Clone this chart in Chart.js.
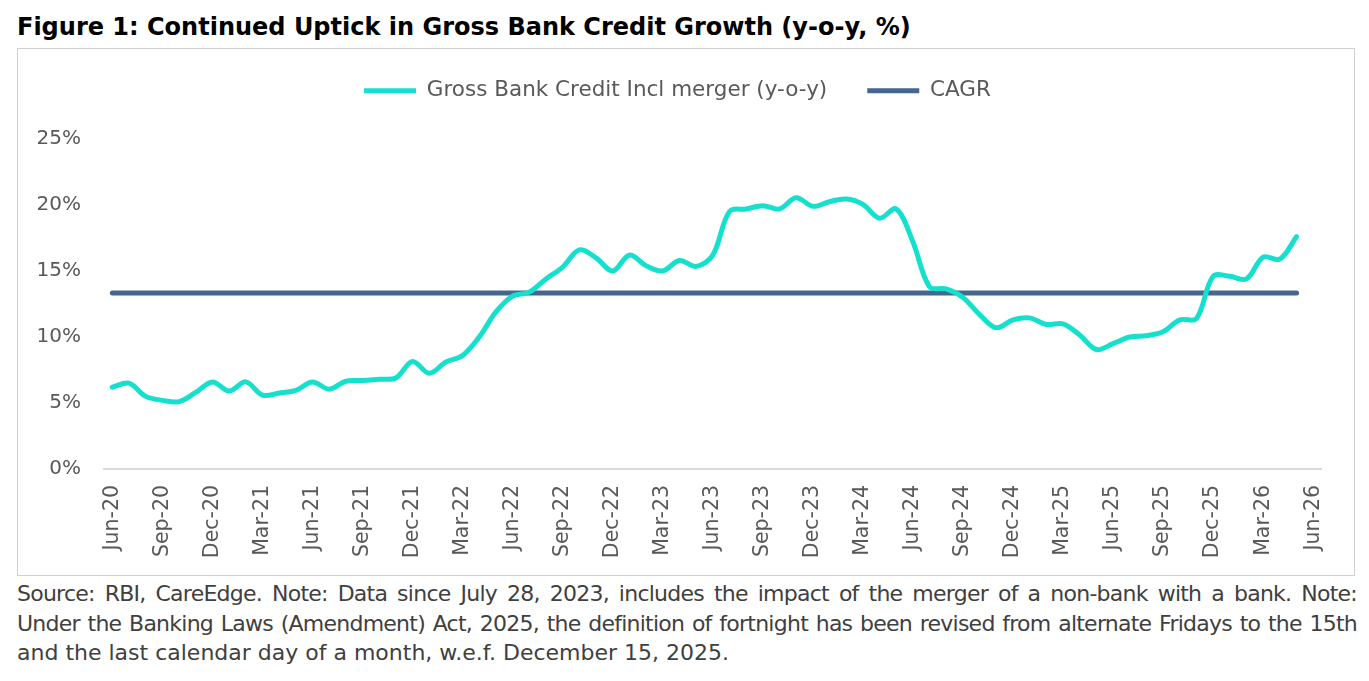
<!DOCTYPE html>
<html>
<head>
<meta charset="utf-8">
<script src="https://cdn.jsdelivr.net/npm/chart.js@4.4.0/dist/chart.umd.min.js"></script>
<style>
html,body{margin:0;padding:0;background:#fff;}
body{width:1369px;height:681px;position:relative;overflow:hidden;font-family:'DejaVu Sans',sans-serif;}
#title{position:absolute;left:17px;top:12px;font-weight:bold;font-size:24px;line-height:30px;color:#000;white-space:nowrap;}
#box{position:absolute;left:17px;top:48px;width:1338px;height:528px;box-sizing:border-box;border:1px solid #d0d0d0;}
#box canvas{position:absolute;left:0;top:0;}
#note{position:absolute;left:17px;top:579px;width:1340px;font-size:22px;line-height:29.5px;color:#404040;}
#note .j{text-align:justify;text-align-last:justify;white-space:nowrap;letter-spacing:-0.75px;}
#note .l{text-align:left;white-space:nowrap;}
</style>
</head>
<body>
<div id="title">Figure 1: Continued Uptick in Gross Bank Credit Growth (y-o-y, %)</div>
<div id="box"><canvas id="c" width="1336" height="526"></canvas></div>
<div id="note">
<div class="j">Source: RBI, CareEdge. Note: Data since July 28, 2023, includes the impact of the merger of a non-bank with a bank. Note:</div>
<div class="j">Under the Banking Laws (Amendment) Act, 2025, the definition of fortnight has been revised from alternate Fridays to the 15th</div>
<div class="l">and the last calendar day of a month, w.e.f. December 15, 2025.</div>
</div>
<script>
const months = [
 'Jun-20','Jul-20','Aug-20','Sep-20','Oct-20','Nov-20','Dec-20','Jan-21','Feb-21','Mar-21','Apr-21','May-21',
 'Jun-21','Jul-21','Aug-21','Sep-21','Oct-21','Nov-21','Dec-21','Jan-22','Feb-22','Mar-22','Apr-22','May-22',
 'Jun-22','Jul-22','Aug-22','Sep-22','Oct-22','Nov-22','Dec-22','Jan-23','Feb-23','Mar-23','Apr-23','May-23',
 'Jun-23','Jul-23','Aug-23','Sep-23','Oct-23','Nov-23','Dec-23','Jan-24','Feb-24','Mar-24','Apr-24','May-24',
 'Jun-24','Jul-24','Aug-24','Sep-24','Oct-24','Nov-24','Dec-24','Jan-25','Feb-25','Mar-25','Apr-25','May-25',
 'Jun-25','Jul-25','Aug-25','Sep-25','Oct-25','Nov-25','Dec-25','Jan-26','Feb-26','Mar-26','Apr-26','May-26',
 'Jun-26'
];
const grossBankCredit = [
 6.2, 6.5, 5.5, 5.2, 5.1, 5.8, 6.6, 5.9, 6.6, 5.6, 5.75, 5.95,
 6.6, 6.05, 6.65, 6.7, 6.8, 6.9, 8.15, 7.25, 8.1, 8.6, 10.0, 11.9,
 13.1, 13.4, 14.4, 15.3, 16.6, 16.0, 15.0, 16.2, 15.4, 15.0, 15.8, 15.35,
 16.2, 19.5, 19.7, 19.95, 19.7, 20.55, 19.9, 20.25, 20.45, 20.05, 19.0, 19.7,
 17.2, 13.8, 13.65, 13.0, 11.7, 10.7, 11.3, 11.45, 10.95, 11.0, 10.15, 9.05,
 9.5, 10.0, 10.1, 10.4, 11.3, 11.4, 14.6, 14.6, 14.4, 16.05, 15.9, 17.6
];
const cagrValue = 13.33;
const cagrStart = 'Jun-20';
const cagrEnd = 'May-26';
const yTicks = [0, 5, 10, 15, 20, 25];

const FONT = "'DejaVu Sans',sans-serif";
const TXT = '#595959';

const legendFix = {
  id: 'legendFix',
  beforeInit(chart) {
    const lg = chart.legend;
    if (lg) {
      const orig = lg.fit;
      lg.fit = function () { orig.call(this); this.height = 99; };
    }
  }
};

new Chart(document.getElementById('c'), {
  type: 'line',
  data: {
    labels: months,
    datasets: [
      {
        label: 'Gross Bank Credit Incl merger (y-o-y)',
        data: grossBankCredit,
        borderColor: '#14E0CD',
        backgroundColor: '#14E0CD',
        borderWidth: 5,
        borderCapStyle: 'round',
        borderJoinStyle: 'round',
        pointRadius: 0,
        tension: 0.35,
        fill: false
      },
      {
        label: 'CAGR',
        data: [{x: cagrStart, y: cagrValue}, {x: cagrEnd, y: cagrValue}],
        borderColor: '#44668F',
        backgroundColor: '#44668F',
        borderWidth: 5,
        borderCapStyle: 'round',
        pointRadius: 0,
        tension: 0,
        fill: false
      }
    ]
  },
  options: {
    responsive: false,
    animation: false,
    layout: { padding: { left: 10, right: 27, top: -9, bottom: 0 } },
    plugins: {
      legend: {
        position: 'top',
        align: 'center',
        labels: {
          usePointStyle: true,
          pointStyle: 'line',
          pointStyleWidth: 52,
          padding: 40,
          color: TXT,
          font: { family: FONT, size: 21.5 }
        }
      },
      tooltip: { enabled: false }
    },
    scales: {
      x: {
        type: 'category',
        offset: true,
        grid: { display: false, drawTicks: false },
        border: { display: true, color: '#d9d9d9', width: 2 },
        ticks: {
          autoSkip: false,
          minRotation: 90,
          maxRotation: 90,
          padding: 16,
          color: TXT,
          font: { family: FONT, size: 20.5 },
          callback: function (v, i) { return i % 3 === 0 ? months[i] : ''; }
        },
        afterFit(scale) { scale.height = 106; }
      },
      y: {
        min: 0,
        max: 25,
        grid: { display: false, drawTicks: false },
        border: { display: false },
        afterBuildTicks(scale) { scale.ticks = yTicks.map(v => ({ value: v })); },
        ticks: {
          padding: 23,
          color: TXT,
          font: { family: FONT, size: 20 },
          callback: v => v + '%'
        },
        afterFit(scale) { scale.width = 76; }
      }
    }
  },
  plugins: [legendFix]
});
</script>
</body>
</html>
